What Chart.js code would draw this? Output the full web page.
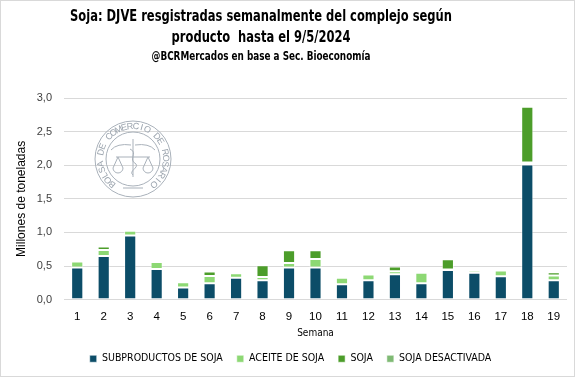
<!DOCTYPE html>
<html>
<head>
<meta charset="utf-8">
<script src="https://cdn.jsdelivr.net/npm/chart.js@4/dist/chart.umd.min.js"></script>
<style>
  html, body { margin: 0; padding: 0; background: #ffffff; }
  #wrap { width: 573px; height: 375px; border: 1px solid #d9d9d9; position: relative; }
  canvas { display: block; }
</style>
</head>
<body>
<div id="wrap"><canvas id="c" width="573" height="375"></canvas></div>
<script>
const weeks = ['1','2','3','4','5','6','7','8','9','10','11','12','13','14','15','16','17','18','19'];
const subproductos = [0.48,0.65,0.955,0.457,0.18,0.246,0.327,0.29,0.48,0.48,0.23,0.29,0.377,0.246,0.44,0.40,0.35,2.01,0.29];
const aceite       = [0.09,0.09,0.07,0.105,0.08,0.105,0.065,0.047,0.065,0.125,0.095,0.085,0.045,0.155,0.01,0.035,0.085,0.03,0.07];
const soja         = [0,0.05,0,0,0,0.07,0,0.175,0.19,0.13,0,0,0.07,0.02,0.15,0,0,0.83,0.05];
const sojaDesactivada = [0,0,0,0,0,0,0,0,0,0,0,0,0,0,0,0,0,0,0];
const yTicks = [0,0.5,1,1.5,2,2.5,3];

const titleLines = ['Soja: DJVE resgistradas semanalmente del complejo según', 'producto  hasta el 9/5/2024'];
const subtitleText = '@BCRMercados en base a Sec. Bioeconomía';

const condensed = "'DejaVu Sans Condensed', 'Liberation Sans Narrow', sans-serif";
const bodyFont = "'Liberation Sans', 'Open Sans', sans-serif";

// Title block drawn as real canvas text, horizontally condensed to mimic the narrow title face
const titlePlugin = {
  id: 'condensedTitle',
  afterDraw(chart) {
    const ctx = chart.ctx;
    const cx = 260;
    ctx.save();
    ctx.fillStyle = '#000000';
    ctx.textAlign = 'center';
    ctx.textBaseline = 'middle';
    const drawScaled = (text, y, font, sx) => {
      ctx.save();
      ctx.font = font;
      ctx.translate(cx, y);
      ctx.scale(sx, 1);
      ctx.fillText(text, 0, 0);
      ctx.restore();
    };
    drawScaled(titleLines[0], 16, "bold 16px " + condensed, 0.8);
    drawScaled(titleLines[1], 37, "bold 16px " + condensed, 0.8);
    drawScaled(subtitleText, 56, "bold 11.5px " + condensed, 0.855);
    ctx.restore();
  }
};

const logoPlugin = {
  id: 'logo',
  beforeDatasetsDraw(chart) {
    const ctx = chart.ctx;
    const cx = 132, cy = 158, R = 38, r = 27;
    ctx.save();
    ctx.strokeStyle = '#a9b1ba';
    ctx.fillStyle = '#9aa3ad';
    ctx.lineWidth = 1;
    ctx.beginPath(); ctx.arc(cx, cy, R, 0, Math.PI * 2); ctx.stroke();
    ctx.beginPath(); ctx.arc(cx, cy, r, 0, Math.PI * 2); ctx.stroke();
    const txt = 'BOLSA DE COMERCIO DE ROSARIO';
    ctx.font = "9px 'Liberation Sans', sans-serif";
    ctx.textAlign = 'center';
    ctx.textBaseline = 'middle';
    const start = Math.PI * 0.72;
    const end = Math.PI * 2.28;
    const step = (end - start) / (txt.length - 1);
    for (let i = 0; i < txt.length; i++) {
      const a = start + i * step;
      ctx.save();
      ctx.translate(cx + Math.cos(a) * 32.5, cy + Math.sin(a) * 32.5);
      ctx.rotate(a + Math.PI / 2);
      ctx.fillText(txt[i], 0, 0);
      ctx.restore();
    }
    ctx.beginPath();
    ctx.moveTo(cx, cy - 20); ctx.lineTo(cx, cy + 18);
    ctx.moveTo(cx - 17, cy - 2); ctx.lineTo(cx + 17, cy - 2);
    ctx.stroke();
    ctx.beginPath();
    ctx.moveTo(cx - 2, cy - 14); ctx.quadraticCurveTo(cx - 16, cy - 16, cx - 22, cy - 9);
    ctx.moveTo(cx + 2, cy - 14); ctx.quadraticCurveTo(cx + 16, cy - 16, cx + 22, cy - 9);
    ctx.stroke();
    [-15, 15].forEach(dx => {
      ctx.beginPath();
      ctx.moveTo(cx + dx, cy - 2); ctx.lineTo(cx + dx - 5, cy + 9);
      ctx.moveTo(cx + dx, cy - 2); ctx.lineTo(cx + dx + 5, cy + 9);
      ctx.stroke();
      ctx.beginPath();
      ctx.arc(cx + dx, cy + 9, 5, 0, Math.PI);
      ctx.stroke();
    });
    ctx.beginPath();
    ctx.moveTo(cx - 3, cy - 10);
    ctx.bezierCurveTo(cx + 6, cy - 6, cx - 6, cy, cx + 3, cy + 5);
    ctx.bezierCurveTo(cx + 6, cy + 9, cx - 5, cy + 12, cx, cy + 16);
    ctx.stroke();
    ctx.beginPath();
    ctx.moveTo(cx - 10, cy + 29); ctx.lineTo(cx + 10, cy + 29);
    ctx.stroke();
    ctx.restore();
  }
};

const ds = (label, data, color) => ({
  label, data,
  backgroundColor: color,
  borderColor: 'rgba(255,255,255,0.55)',
  borderWidth: 1,
  borderSkipped: false,
  categoryPercentage: 1,
  barPercentage: 0.46
});

new Chart(document.getElementById('c'), {
  type: 'bar',
  data: {
    labels: weeks,
    datasets: [
      ds('SUBPRODUCTOS DE SOJA', subproductos, '#0C4D68'),
      ds('ACEITE DE SOJA', aceite, '#8DD874'),
      ds('SOJA', soja, '#4C9D2A'),
      ds('SOJA DESACTIVADA', sojaDesactivada, '#7FBA74')
    ]
  },
  plugins: [logoPlugin, titlePlugin],
  options: {
    responsive: false,
    animation: false,
    layout: { padding: { left: 13, right: 7, top: 97, bottom: 2 } },
    plugins: {
      title: { display: false },
      subtitle: { display: false },
      legend: {
        position: 'bottom',
        labels: {
          boxWidth: 7,
          boxHeight: 7,
          padding: 14,
          color: '#000000',
          font: { family: condensed, size: 10.5 }
        }
      },
      tooltip: { enabled: false }
    },
    scales: {
      x: {
        stacked: true,
        grid: { display: false },
        border: { display: false },
        ticks: { color: '#000000', font: { family: bodyFont, size: 11.5 }, padding: 2 },
        title: { display: true, text: 'Semana', color: '#000000', font: { family: condensed, size: 10 }, padding: { top: 2, bottom: 0 } }
      },
      y: {
        stacked: true,
        min: 0,
        max: 3,
        afterBuildTicks(axis) { axis.ticks = yTicks.map(v => ({ value: v })); },
        afterFit(axis) { axis.width = 50; },
        grid: { color: '#d9d9d9', lineWidth: 1, drawTicks: false },
        border: { display: false },
        ticks: {
          color: '#404040',
          padding: 12,
          font: { family: bodyFont, size: 11 },
          callback: v => v.toFixed(1).replace('.', ',')
        },
        title: { display: true, text: 'Millones de toneladas', color: '#000000', font: { family: bodyFont, size: 12 }, padding: { top: 0, bottom: 2 } }
      }
    }
  }
});
</script>
</body>
</html>
